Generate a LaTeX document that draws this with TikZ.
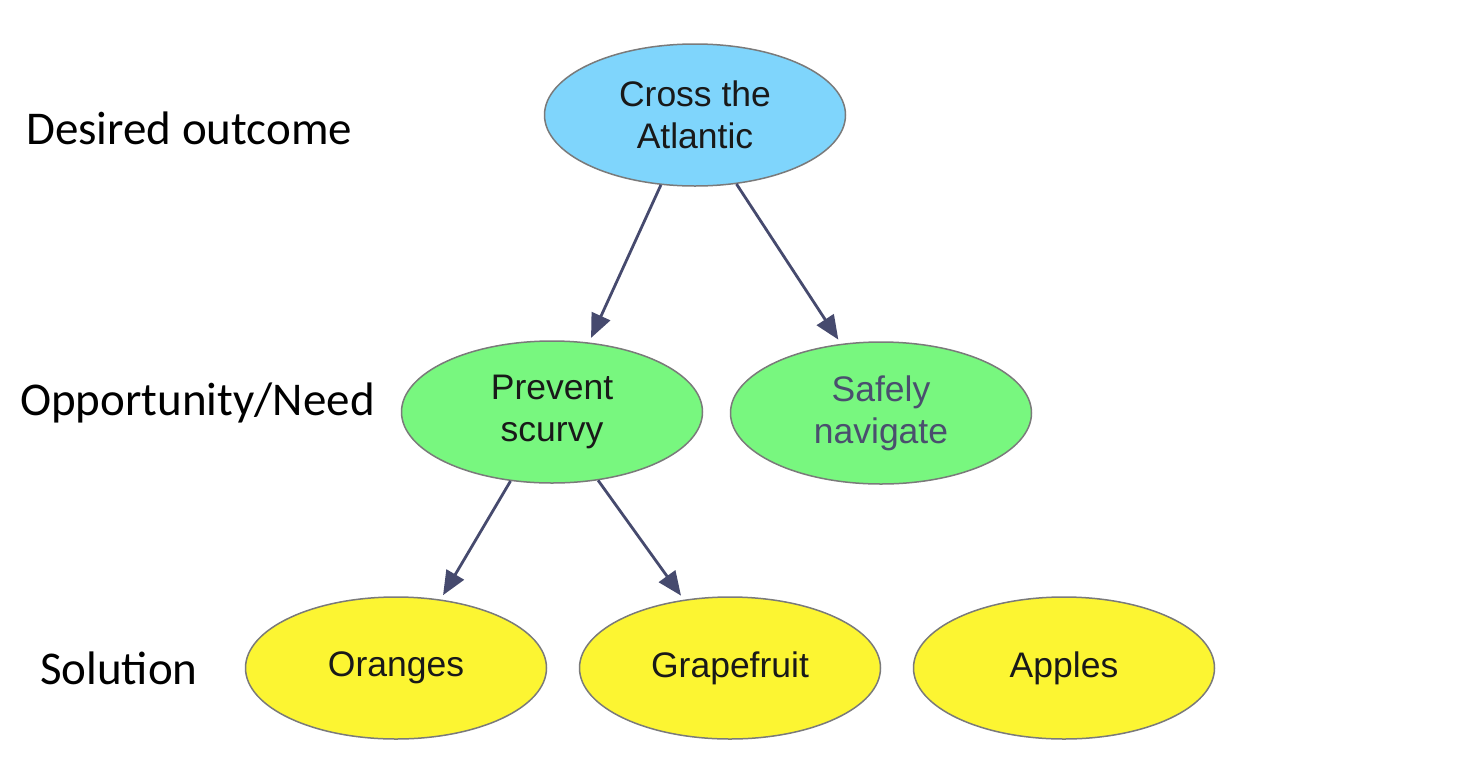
\documentclass[tikz,border=0pt]{standalone}
\usepackage{fontspec}
\setmainfont{Liberation Sans}
\newfontfamily\calib{Carlito}
\usetikzlibrary{shapes.geometric,arrows.meta}
\definecolor{skyb}{HTML}{7FD5FC}
\definecolor{grn}{HTML}{78F77F}
\definecolor{ylw}{HTML}{FCF532}
\definecolor{edge}{HTML}{7A7A7A}
\definecolor{arr}{HTML}{464A6E}
\definecolor{navtxt}{HTML}{4A4F6E}
\tikzset{
  bubble/.style={ellipse, draw=edge, line width=1.5pt, minimum width=301pt, minimum height=142pt, inner sep=0pt, align=center, font=\fontsize{35.5}{42}\selectfont, text=black!90},
  goal/.style={bubble, fill=skyb},
  need/.style={bubble, fill=grn},
  sol/.style={bubble, fill=ylw},
  link/.style={draw=arr, line width=2.8pt, -{Triangle[length=24pt,width=20pt]}, shorten >=5pt},
  lvl/.style={anchor=west, font=\calib\fontsize{47}{52}\selectfont, inner sep=0pt}
}
\begin{document}
\begin{tikzpicture}[x=1pt,y=-1pt]
\useasboundingbox[fill=white] (0,0) rectangle (1468,756);
\node[goal] (cross) at (695,115) {Cross the\\Atlantic};
\node[need] (prevent) at (552,412) {Prevent\\scurvy};
\node[need, text=navtxt] (safe) at (881,413) {Safely\\navigate};
\node[sol] (orange) at (396,668) {Oranges};
\node[sol] (grape) at (730,668) {Grapefruit};
\node[sol] (apple) at (1064,668) {Apples};
\node[lvl] (l1) at (26,128) {Desired outcome};
\node[lvl] (l2) at (20,403) {Opportunity/Need};
\node[lvl] (l3) at (40,668) {Solution};
\draw[link] (cross.244) -- (prevent.62.5);
\draw[link] (cross.301.6) -- (safe.120.9);
\draw[link] (prevent.239.7) -- (orange.57.9);
\draw[link] (prevent.304.2) -- (grape.124.9);
\end{tikzpicture}
\end{document}
